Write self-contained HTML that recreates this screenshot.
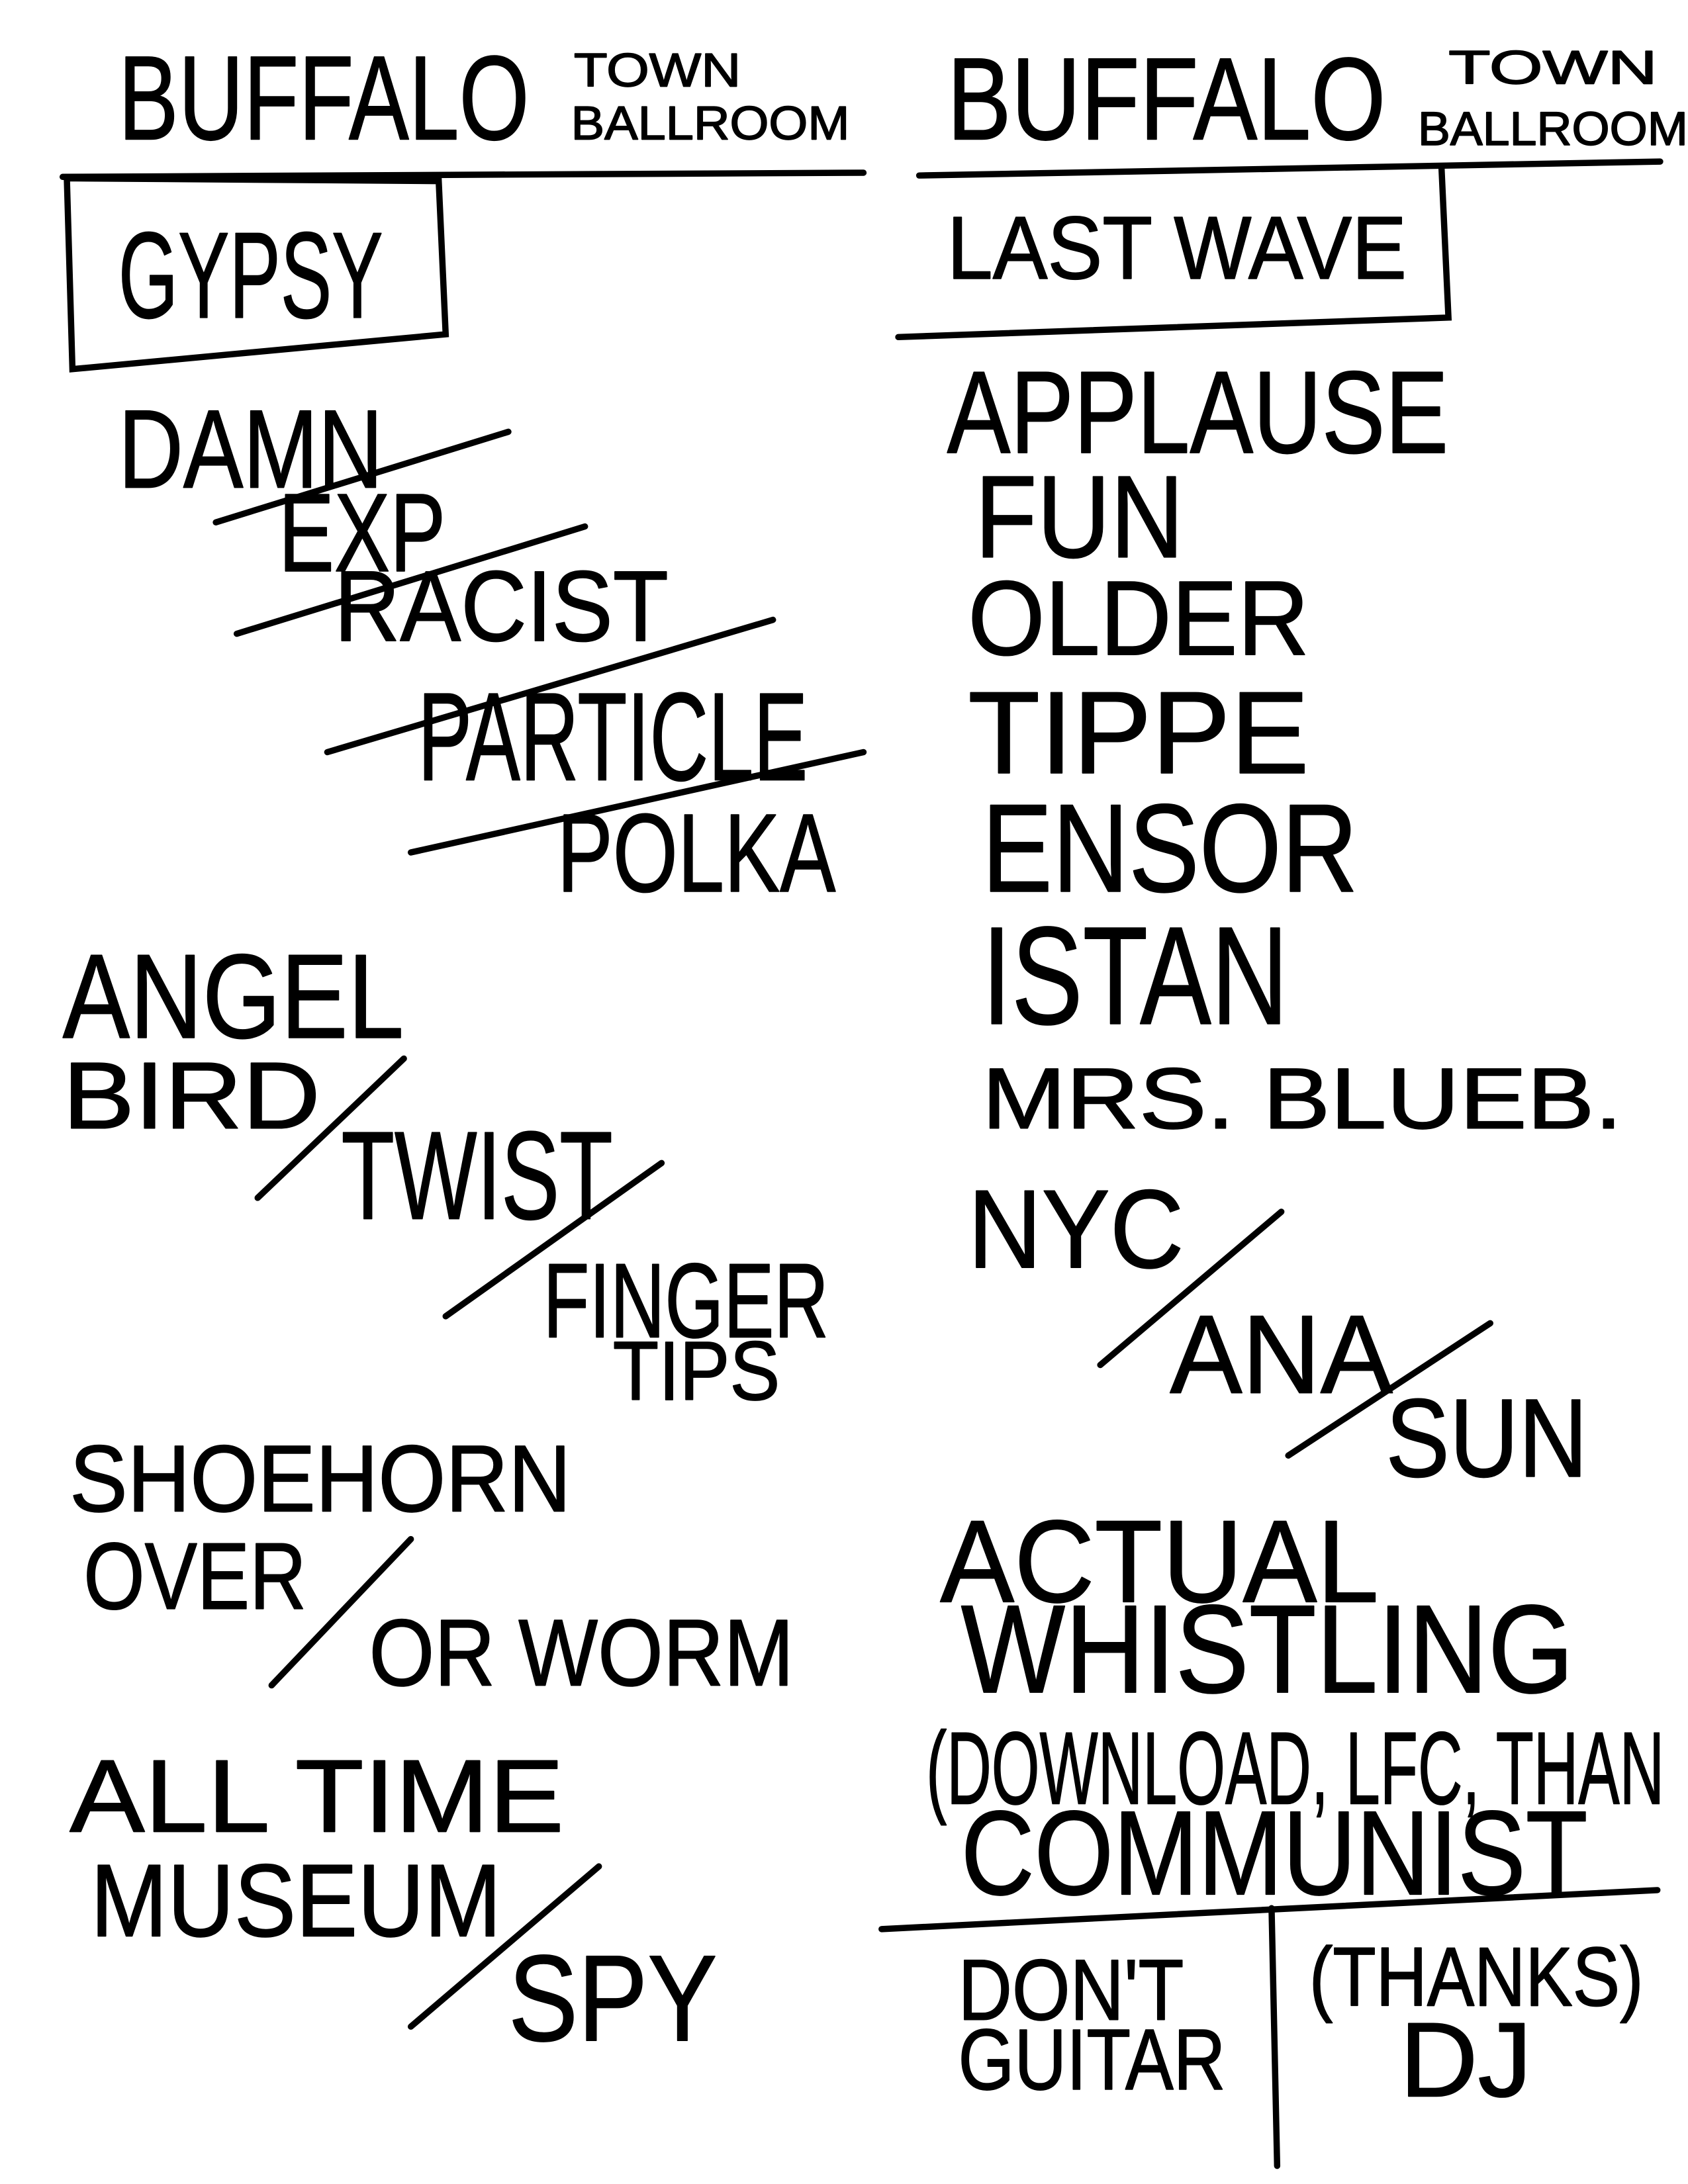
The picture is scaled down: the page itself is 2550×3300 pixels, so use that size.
<!DOCTYPE html>
<html><head><meta charset="utf-8"><style>
html,body{margin:0;padding:0;background:#fff;}
svg{display:block;}
text{font-family:"Liberation Sans",sans-serif;fill:#000;stroke:#000;stroke-width:0.8;stroke-linejoin:round;}
line,polyline,path{stroke:#000;stroke-width:4.5;stroke-linecap:round;fill:none;}
</style></head><body>
<svg width="2550" height="3300" viewBox="0 0 1212 1568" preserveAspectRatio="none" xmlns="http://www.w3.org/2000/svg">
<rect width="1212" height="1568" fill="#fff" stroke="none"/>
<text x="85" y="100" font-size="86" textLength="295" lengthAdjust="spacingAndGlyphs">BUFFALO</text>
<text x="412" y="62" font-size="34" textLength="120" lengthAdjust="spacingAndGlyphs">TOWN</text>
<text x="410" y="100" font-size="34" textLength="200" lengthAdjust="spacingAndGlyphs">BALLROOM</text>
<line x1="45" y1="127" x2="620" y2="124"/>
<polyline points="48,128 315,130 320,240 52,265 48,128"/>
<text x="85" y="228" font-size="88" textLength="190" lengthAdjust="spacingAndGlyphs">GYPSY</text>
<text x="85" y="350" font-size="80" textLength="190" lengthAdjust="spacingAndGlyphs">DAMN</text>
<line x1="155" y1="375" x2="365" y2="310"/>
<text x="200" y="410" font-size="80" textLength="120" lengthAdjust="spacingAndGlyphs">EXP</text>
<line x1="170" y1="455" x2="420" y2="378"/>
<text x="240" y="460" font-size="72" textLength="240" lengthAdjust="spacingAndGlyphs">RACIST</text>
<line x1="235" y1="540" x2="555" y2="445"/>
<text x="300" y="560" font-size="90" textLength="280" lengthAdjust="spacingAndGlyphs">PARTICLE</text>
<line x1="295" y1="612" x2="620" y2="540"/>
<text x="400" y="640" font-size="80" textLength="200" lengthAdjust="spacingAndGlyphs">POLKA</text>
<text x="45" y="745" font-size="86" textLength="245" lengthAdjust="spacingAndGlyphs">ANGEL</text>
<text x="45" y="810" font-size="68" textLength="185" lengthAdjust="spacingAndGlyphs">BIRD</text>
<line x1="185" y1="860" x2="290" y2="760"/>
<text x="245" y="875" font-size="90" textLength="195" lengthAdjust="spacingAndGlyphs">TWIST</text>
<line x1="320" y1="945" x2="475" y2="835"/>
<text x="390" y="960" font-size="76" textLength="205" lengthAdjust="spacingAndGlyphs">FINGER</text>
<text x="440" y="1005" font-size="60" textLength="120" lengthAdjust="spacingAndGlyphs">TIPS</text>
<text x="50" y="1085" font-size="68" textLength="360" lengthAdjust="spacingAndGlyphs">SHOEHORN</text>
<text x="60" y="1155" font-size="68" textLength="160" lengthAdjust="spacingAndGlyphs">OVER</text>
<line x1="195" y1="1210" x2="295" y2="1105"/>
<text x="265" y="1210" font-size="68" textLength="305" lengthAdjust="spacingAndGlyphs">OR WORM</text>
<text x="50" y="1315" font-size="74" textLength="355" lengthAdjust="spacingAndGlyphs">ALL TIME</text>
<text x="65" y="1390" font-size="74" textLength="295" lengthAdjust="spacingAndGlyphs">MUSEUM</text>
<line x1="295" y1="1455" x2="430" y2="1340"/>
<text x="365" y="1465" font-size="88" textLength="150" lengthAdjust="spacingAndGlyphs">SPY</text>
<text x="680" y="100" font-size="84" textLength="315" lengthAdjust="spacingAndGlyphs">BUFFALO</text>
<text x="1040" y="60" font-size="34" textLength="150" lengthAdjust="spacingAndGlyphs">TOWN</text>
<text x="1018" y="104" font-size="34" textLength="194" lengthAdjust="spacingAndGlyphs">BALLROOM</text>
<line x1="660" y1="126" x2="1192" y2="116"/>
<polyline points="1035,120 1040,228 645,242"/>
<text x="680" y="200" font-size="64" textLength="330" lengthAdjust="spacingAndGlyphs">LAST WAVE</text>
<text x="680" y="325" font-size="84" textLength="360" lengthAdjust="spacingAndGlyphs">APPLAUSE</text>
<text x="700" y="400" font-size="84" textLength="150" lengthAdjust="spacingAndGlyphs">FUN</text>
<text x="695" y="470" font-size="76" textLength="245" lengthAdjust="spacingAndGlyphs">OLDER</text>
<text x="695" y="555" font-size="84" textLength="245" lengthAdjust="spacingAndGlyphs">TIPPE</text>
<text x="705" y="640" font-size="90" textLength="270" lengthAdjust="spacingAndGlyphs">ENSOR</text>
<text x="705" y="735" font-size="100" textLength="220" lengthAdjust="spacingAndGlyphs">ISTAN</text>
<text x="705" y="810" font-size="62" textLength="460" lengthAdjust="spacingAndGlyphs">MRS. BLUEB.</text>
<text x="695" y="910" font-size="80" textLength="155" lengthAdjust="spacingAndGlyphs">NYC</text>
<line x1="790" y1="980" x2="920" y2="870"/>
<text x="840" y="1000" font-size="80" textLength="160" lengthAdjust="spacingAndGlyphs">ANA</text>
<line x1="925" y1="1045" x2="1070" y2="950"/>
<text x="995" y="1060" font-size="80" textLength="145" lengthAdjust="spacingAndGlyphs">SUN</text>
<text x="675" y="1150" font-size="84" textLength="315" lengthAdjust="spacingAndGlyphs">ACTUAL</text>
<text x="690" y="1215" font-size="90" textLength="440" lengthAdjust="spacingAndGlyphs">WHISTLING</text>
<text x="665" y="1295" font-size="74" textLength="530" lengthAdjust="spacingAndGlyphs">(DOWNLOAD, LFC, THAN</text>
<text x="690" y="1360" font-size="86" textLength="450" lengthAdjust="spacingAndGlyphs">COMMUNIST</text>
<line x1="633" y1="1385" x2="1190" y2="1357"/>
<line x1="913" y1="1370" x2="917" y2="1555"/>
<text x="688" y="1450" font-size="62" textLength="162" lengthAdjust="spacingAndGlyphs">DON'T</text>
<text x="688" y="1500" font-size="62" textLength="192" lengthAdjust="spacingAndGlyphs">GUITAR</text>
<text x="940" y="1440" font-size="60" textLength="240" lengthAdjust="spacingAndGlyphs">(THANKS)</text>
<text x="1005" y="1505" font-size="76" textLength="95" lengthAdjust="spacingAndGlyphs">DJ</text>
</svg>
</body></html>
